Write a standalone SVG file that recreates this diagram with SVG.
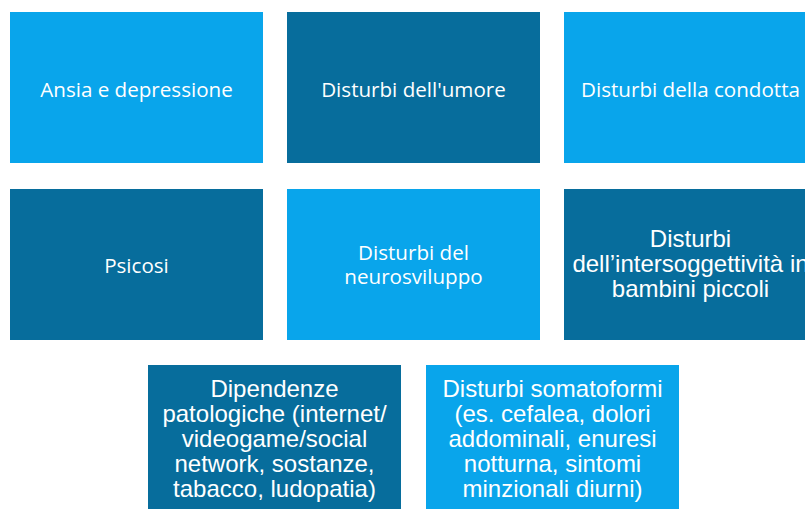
<svg xmlns="http://www.w3.org/2000/svg" width="805" height="509" viewBox="0 0 805 509">
<style>
.l{fill:#09A5EB}
.d{fill:#076D9C}
.c{font-family:"Open Sans","Noto Sans",sans-serif;font-size:20.6px;fill:#ffffff;text-anchor:middle}
.a{font-family:"Liberation Sans",Arial,sans-serif;font-size:24px;fill:#ffffff;text-anchor:middle}
</style>
<rect width="805" height="509" fill="#ffffff"/>
<g id="n1"><rect class="l" x="10" y="12" width="253" height="151"/><text class="c" x="136.5" y="97">Ansia e depressione</text></g>
<g id="n2"><rect class="d" x="287" y="12" width="253" height="151"/><text class="c" x="413.5" y="97">Disturbi dell'umore</text></g>
<g id="n3"><rect class="l" x="564" y="12" width="253" height="151"/><text class="c" x="690.5" y="97">Disturbi della condotta</text></g>
<g id="n4"><rect class="d" x="10" y="189" width="253" height="151"/><text class="c" x="136.5" y="273">Psicosi</text></g>
<g id="n5"><rect class="l" x="287" y="189" width="253" height="151"/><text class="c" x="413.5" y="260">Disturbi del</text><text class="c" x="413.5" y="284">neurosviluppo</text></g>
<g id="n6"><rect class="d" x="564" y="189" width="253" height="151"/><text class="a" x="690.5" y="247">Disturbi</text><text class="a" x="690.5" y="272">dell’intersoggettività in</text><text class="a" x="690.5" y="297">bambini piccoli</text></g>
<g id="n7"><rect class="d" x="148" y="365" width="253" height="151"/><text class="a" x="274.5" y="397">Dipendenze</text><text class="a" x="274.5" y="422">patologiche (internet/</text><text class="a" x="274.5" y="447">videogame/social</text><text class="a" x="274.5" y="472">network, sostanze,</text><text class="a" x="274.5" y="497">tabacco, ludopatia)</text></g>
<g id="n8"><rect class="l" x="426" y="365" width="253" height="151"/><text class="a" x="552.5" y="397">Disturbi somatoformi</text><text class="a" x="552.5" y="422">(es. cefalea, dolori</text><text class="a" x="552.5" y="447">addominali, enuresi</text><text class="a" x="552.5" y="472">notturna, sintomi</text><text class="a" x="552.5" y="497">minzionali diurni)</text></g>
<g id="connectors"></g>
</svg>
